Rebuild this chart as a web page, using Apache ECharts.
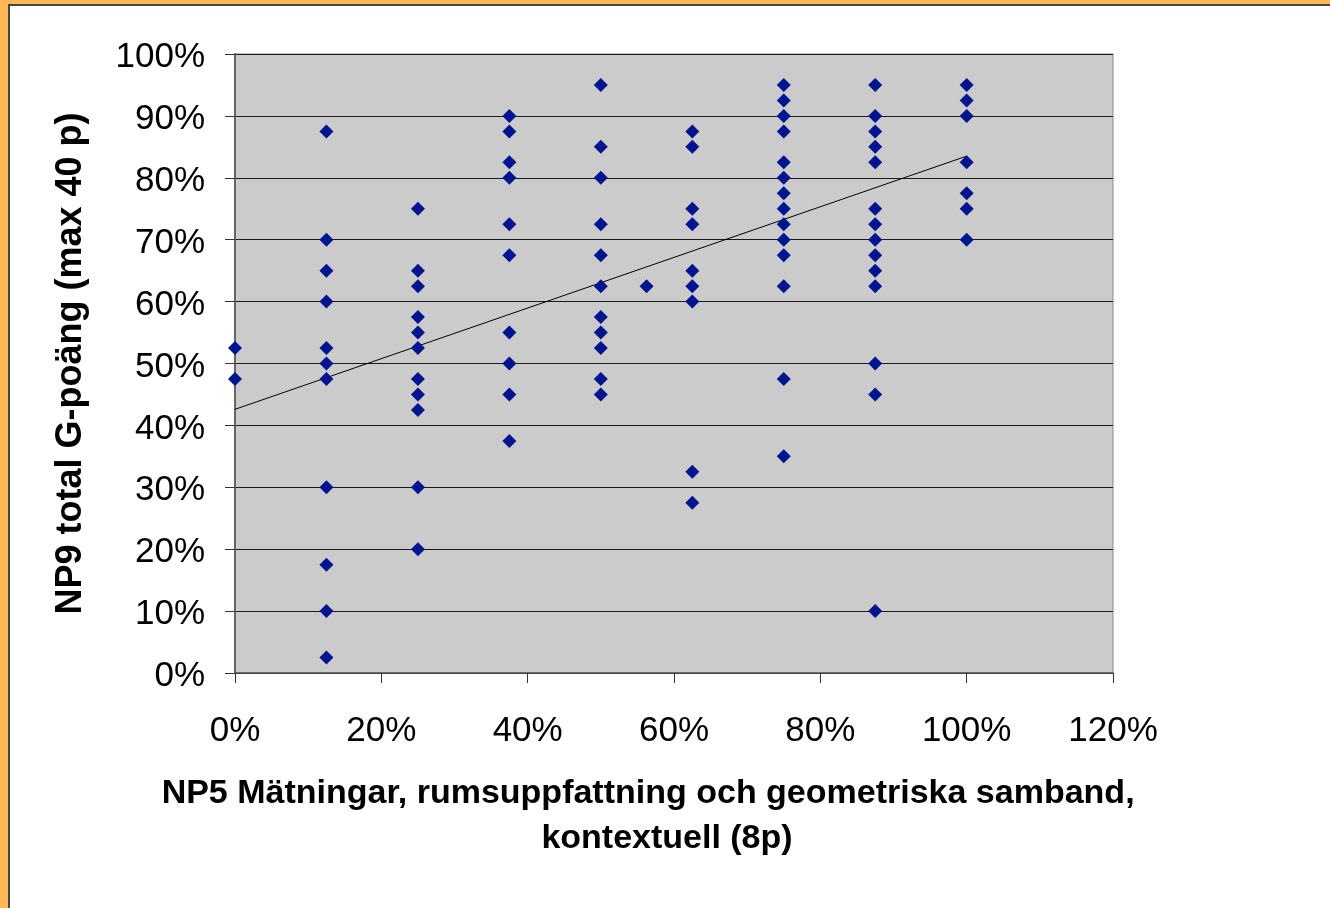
<!DOCTYPE html>
<html>
<head>
<meta charset="utf-8">
<script src="https://cdn.jsdelivr.net/npm/echarts@6/dist/echarts.min.js"></script>
<style>
html,body{margin:0;padding:0;background:#fff;}
#chart{width:1330px;height:908px;}
</style>
</head>
<body>
<div id="chart"></div>
<script>
// x positions (NP5 score share, %) and the NP9 values (%) observed at each
var xValues = [0, 12.5, 25, 37.5, 50, 56.25, 62.5, 75, 87.5, 100];
var col0 = [52.5, 47.5];
var col12 = [87.5, 70, 65, 60, 52.5, 50, 47.5, 30, 17.5, 10, 2.5];
var col25 = [75, 65, 62.5, 57.5, 55, 52.5, 47.5, 45, 42.5, 30, 20];
var col37 = [90, 87.5, 82.5, 80, 72.5, 67.5, 55, 50, 45, 37.5];
var col50 = [95, 85, 80, 72.5, 67.5, 62.5, 57.5, 55, 52.5, 47.5, 45];
var col56 = [62.5];
var col62 = [87.5, 85, 75, 72.5, 65, 62.5, 60, 32.5, 27.5];
var col75 = [95, 92.5, 90, 87.5, 82.5, 80, 77.5, 75, 72.5, 70, 67.5, 62.5, 47.5, 35];
var col87 = [95, 90, 87.5, 85, 82.5, 75, 72.5, 70, 67.5, 65, 62.5, 50, 45, 10];
var col100 = [95, 92.5, 90, 82.5, 77.5, 75, 70];
// linear trendline end points
var trendX = [0, 100];
var trendY = [42.6, 83.5];

var xTitle = 'NP5 Mätningar, rumsuppfattning och geometriska samband,    \nkontextuell (8p)';
var yTitle = 'NP9 total G-poäng (max 40 p)';

var columns = [col0, col12, col25, col37, col50, col56, col62, col75, col87, col100];
var points = [];
columns.forEach(function (col, i) {
  col.forEach(function (v) { points.push([xValues[i], v]); });
});
var trend = trendX.map(function (x, i) { return [x, trendY[i]]; });

var FONT = '"Liberation Sans", Arial, sans-serif';
var chart = echarts.init(document.getElementById('chart'));
chart.setOption({
  animation: false,
  backgroundColor: '#ffffff',
  graphic: [
    { type: 'rect', shape: { x: 0, y: 0, width: 1330, height: 4 }, style: { fill: '#FFB852' }, silent: true },
    { type: 'rect', shape: { x: 0, y: 0, width: 8, height: 908 }, style: { fill: '#FFB852' }, silent: true },
    { type: 'rect', shape: { x: 8, y: 4, width: 2, height: 904 }, style: { fill: '#454545' }, silent: true },
    { type: 'rect', shape: { x: 8, y: 4, width: 1322, height: 2 }, style: { fill: '#454545' }, silent: true }
  ],
  grid: {
    left: 235, right: 217, top: 54, bottom: 235,
    show: true, backgroundColor: '#cbcbcb', borderColor: '#8a8a8a', borderWidth: 1
  },
  xAxis: {
    type: 'value', min: 0, max: 120, interval: 20,
    name: xTitle, nameLocation: 'middle', nameGap: 98,
    nameTextStyle: { fontFamily: FONT, fontSize: 34, fontWeight: 'bold', color: '#000', lineHeight: 45, padding: [0, 14, 0, 0] },
    axisLine: { show: true, onZero: false, lineStyle: { color: '#555', width: 1.5 } },
    axisTick: { show: true, length: 10, inside: false, lineStyle: { color: '#333' } },
    axisLabel: { formatter: '{value}%', fontFamily: FONT, fontSize: 35, color: '#000', margin: 41 },
    splitLine: { show: false }
  },
  yAxis: {
    type: 'value', min: 0, max: 100, interval: 10,
    name: yTitle, nameLocation: 'middle', nameGap: 146,
    nameTextStyle: { fontFamily: FONT, fontSize: 36, fontWeight: 'bold', color: '#000' },
    axisLine: { show: true, onZero: false, lineStyle: { color: '#666', width: 2 } },
    axisTick: { show: true, length: 10, inside: false, lineStyle: { color: '#333' } },
    axisLabel: {
      formatter: '{a|{value}%}', margin: 30,
      rich: { a: { fontFamily: FONT, fontSize: 35, color: '#000', padding: [7, 0, 0, 0] } }
    },
    splitLine: { show: true, lineStyle: { color: '#1a1a1a', width: 1 } }
  },
  series: [
    {
      type: 'scatter', data: points, symbol: 'diamond', symbolSize: 14,
      itemStyle: { color: '#001490', opacity: 1 }, z: 3
    },
    {
      type: 'line', data: trend, showSymbol: false, symbol: 'none',
      lineStyle: { color: '#000', width: 1 }, z: 2
    }
  ]
});
</script>
</body>
</html>
